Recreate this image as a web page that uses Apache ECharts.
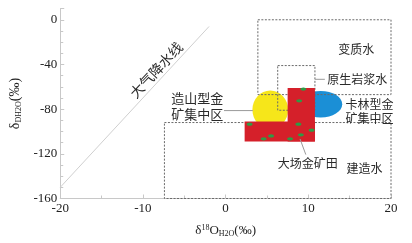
<!DOCTYPE html>
<html lang="zh">
<head>
<meta charset="UTF-8">
<title>氢氧同位素图解</title>
<script src="https://cdn.jsdelivr.net/npm/echarts@6/dist/echarts.min.js"></script>
<style>
  html, body { margin: 0; padding: 0; background: #fff; }
  #main { width: 412px; height: 243px; }
</style>
</head>
<body>
<div id="main"></div>
<script>
// 坐标轴
var xTicks = [-20, -10, 0, 10, 20];
var yTicks = [-160, -120, -80, -40, 0];

// 大气降水线两端点
var meteoricLine = [[-20, -150], [-2, -6]];

// 水的区域 [x左, x右, y上, y下]：变质水、原生岩浆水、建造水
var waterBoxes = [
  [3.9, 20, 0, -67],
  [6.3, 10.8, -41, -81],
  [-7.4, 20, -92, -160]
];

// 矿集区椭圆 [cx, cy, rx, ry]
var orogenicZone = [[5.4, -80.5, 2.16, 17.2]];
var carlinZone = [[11.5, -75.6, 2.6, 11.8]];

// 大场金矿田范围
var dachangRects = [
  [7.5, 10.8, -61, -109],
  [2.3, 10.8, -91, -109]
];
// 大场样品点
var dachangSamples = [
  [9.4, -62], [8.9, -72.6], [2.9, -93.5], [8.8, -93.5], [10.4, -98.8],
  [9.1, -103], [5.5, -104], [4.6, -106.6], [7.8, -106.6]
];

// 注记文字 [x, y]
var labelNames = ['变质水', '原生岩浆水', '卡林型金', '矿集中区', '造山型金', '矿集中区', '大场金矿田', '建造水', '大气降水线'];
var labelPos = [[15.8, -26.2], [12.3, -53.3], [14.5, -76], [14.5, -88], [-0.3, -70], [-0.3, -84.8], [6.3, -128.5], [16.8, -133], [-8.4, -45]];
// 引线
var leaderLines = [
  [[10.8, -53.3], [12.0, -53.3]],
  [[-0.2, -81.3], [3.3, -81.3]],
  [[9.0, -106.7], [9.7, -120.7]]
];

var serif = 'Liberation Serif';
var cjk = 'Noto Sans CJK SC';

function rectItem(style) {
  return function (params, api) {
    var p0 = api.coord([api.value(0), api.value(2)]);
    var p1 = api.coord([api.value(1), api.value(3)]);
    return {
      type: 'rect',
      shape: { x: p0[0], y: p0[1], width: p1[0] - p0[0], height: p1[1] - p0[1] },
      style: style
    };
  };
}

function ellipseItem(color) {
  return function (params, api) {
    var c = api.coord([api.value(0), api.value(1)]);
    var s = api.size([api.value(2), api.value(3)]);
    return {
      type: 'ellipse',
      shape: { cx: c[0], cy: c[1], rx: s[0], ry: s[1] },
      style: { fill: color }
    };
  };
}

var myChart = echarts.init(document.getElementById('main'));

var option = {
  animation: false,
  grid: { left: 49, right: 21, top: 8.6, bottom: 40 },
  xAxis: {
    type: 'value', min: -20, max: 20, interval: 10,
    name: '{d|δ}{sup|18}{d|O}{sub|H2O}{d|(‰)}',
    nameLocation: 'middle', nameGap: 25,
    nameTextStyle: {
      color: '#222',
      rich: {
        d: { fontFamily: serif, fontSize: 13, color: '#222' },
        sup: { fontFamily: serif, fontSize: 8, color: '#222', padding: [0, 0, 7, 0] },
        sub: { fontFamily: serif, fontSize: 8, color: '#222', padding: [6, 0, 0, 0] }
      }
    },
    axisLine: { onZero: false, lineStyle: { color: '#c8c8c8' } },
    axisTick: { inside: true, length: 4, lineStyle: { color: '#c8c8c8' } },
    minorTick: { show: true, splitNumber: 2, length: 3, lineStyle: { color: '#c8c8c8' } },
    splitLine: { show: false },
    axisLabel: {
      margin: 4, fontFamily: serif, fontSize: 13, color: '#222',
      formatter: function (v) { return xTicks.indexOf(v) >= 0 ? String(v) : ''; }
    }
  },
  yAxis: {
    type: 'value', min: -160, max: 10, interval: 40,
    name: '{d|δ}{sub|DH2O}{d|(‰)}',
    nameLocation: 'middle', nameGap: 29, nameRotate: 90,
    nameTextStyle: {
      color: '#222',
      rich: {
        d: { fontFamily: serif, fontSize: 14, color: '#222' },
        sub: { fontFamily: serif, fontSize: 8, color: '#222', padding: [7, 0, 0, 0] }
      }
    },
    axisLine: { onZero: false, lineStyle: { color: '#c8c8c8' } },
    axisTick: { inside: true, length: 4, lineStyle: { color: '#c8c8c8' } },
    minorTick: { show: true, splitNumber: 4, length: 3, lineStyle: { color: '#c8c8c8' } },
    splitLine: { show: false },
    axisLabel: {
      margin: 3, fontFamily: serif, fontSize: 13, color: '#222',
      formatter: function (v) { return yTicks.indexOf(v) >= 0 ? String(v) : ''; }
    }
  },
  series: [
    {
      type: 'line', data: meteoricLine, showSymbol: false, silent: true,
      lineStyle: { color: '#cfcfcf', width: 1 }, z: 1
    },
    {
      type: 'custom', data: orogenicZone, renderItem: ellipseItem('#f6e61a'),
      encode: { x: 0, y: 1 }, silent: true, z: 2
    },
    {
      type: 'custom', data: carlinZone, renderItem: ellipseItem('#1b8fd6'),
      encode: { x: 0, y: 1 }, silent: true, z: 2
    },
    {
      type: 'custom', data: waterBoxes,
      renderItem: rectItem({ fill: 'none', stroke: '#6a6a6a', lineWidth: 1, lineDash: [2, 1.5] }),
      encode: { x: [0, 1], y: [2, 3] }, silent: true, z: 3
    },
    {
      type: 'custom', data: dachangRects,
      renderItem: rectItem({ fill: '#d5202a' }),
      encode: { x: [0, 1], y: [2, 3] }, silent: true, z: 4
    },
    {
      type: 'custom', data: dachangSamples, silent: true, z: 5,
      encode: { x: 0, y: 1 },
      renderItem: function (params, api) {
        var c = api.coord([api.value(0), api.value(1)]);
        return { type: 'ellipse', shape: { cx: c[0], cy: c[1], rx: 3, ry: 1.6 }, style: { fill: '#2f9a45' } };
      }
    },
    {
      type: 'custom', data: leaderLines.map(function (l) { return [l[0][0], l[0][1], l[1][0], l[1][1]]; }),
      silent: true, z: 5,
      encode: { x: [0, 2], y: [1, 3] },
      renderItem: function (params, api) {
        var a = api.coord([api.value(0), api.value(1)]);
        var b = api.coord([api.value(2), api.value(3)]);
        return {
          type: 'line', shape: { x1: a[0], y1: a[1], x2: b[0], y2: b[1] },
          style: { stroke: '#9a9a9a', lineWidth: 1 }
        };
      }
    },
    {
      type: 'custom', data: labelPos, silent: true, z: 6,
      encode: { x: 0, y: 1 },
      renderItem: function (params, api) {
        var i = params.dataIndex;
        var c = api.coord([api.value(0), api.value(1)]);
        var align = 'center';
        if (i === 1 || i === 2 || i === 3 || i === 6) align = 'left';
        if (i === 4 || i === 5) align = 'right';
        var size = 12;
        if (i === 4 || i === 5) size = 13;
        if (i === 8) size = 14;
        return {
          type: 'text', x: c[0], y: c[1],
          rotation: i === 8 ? 0.82 : 0,
          style: {
            text: labelNames[i], fontFamily: cjk, fontSize: size, fill: '#2a2a2a',
            align: align, verticalAlign: 'middle'
          }
        };
      }
    }
  ]
};

myChart.setOption(option);
</script>
</body>
</html>
